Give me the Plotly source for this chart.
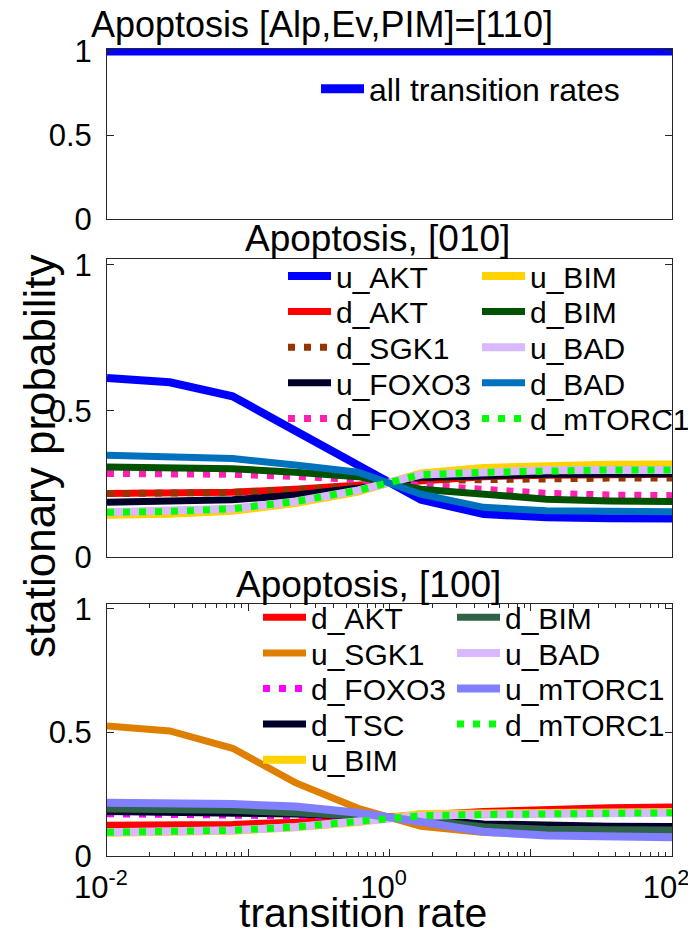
import plotly.graph_objects as go

# ---------------- data ----------------
x_rate = [0.01, 0.02783, 0.07743, 0.2154, 0.5995, 1.668, 4.642, 12.92, 35.94, 100.0]

# top panel [110]
top_names = ["all transition rates"]
top_all = [1.0, 1.0, 1.0, 1.0, 1.0, 1.0, 1.0, 1.0, 1.0, 1.0]

# middle panel [010]
mid_names = ["u_AKT", "d_AKT", "d_SGK1", "u_FOXO3", "d_FOXO3",
             "u_BIM", "d_BIM", "u_BAD", "d_BAD", "d_mTORC1"]
mid_u_AKT    = [0.613, 0.598, 0.550, 0.433, 0.317, 0.196, 0.147, 0.136, 0.133, 0.132]
mid_d_AKT    = [0.217, 0.218, 0.222, 0.232, 0.245, 0.262, 0.275, 0.280, 0.282, 0.283]
mid_d_SGK1   = [0.217, 0.218, 0.221, 0.230, 0.243, 0.262, 0.266, 0.269, 0.270, 0.270]
mid_u_FOXO3  = [0.187, 0.189, 0.196, 0.212, 0.235, 0.272, 0.280, 0.283, 0.284, 0.285]
mid_d_FOXO3  = [0.286, 0.285, 0.283, 0.276, 0.265, 0.245, 0.230, 0.218, 0.212, 0.210]
mid_u_BIM    = [0.145, 0.148, 0.158, 0.185, 0.224, 0.286, 0.305, 0.313, 0.316, 0.317]
mid_d_BIM    = [0.308, 0.306, 0.302, 0.290, 0.275, 0.232, 0.212, 0.198, 0.192, 0.190]
mid_u_BAD    = [0.153, 0.156, 0.165, 0.190, 0.228, 0.282, 0.290, 0.297, 0.298, 0.298]
mid_d_BAD    = [0.348, 0.345, 0.337, 0.315, 0.290, 0.215, 0.170, 0.158, 0.156, 0.155]
mid_d_mTORC1 = [0.153, 0.156, 0.165, 0.190, 0.228, 0.282, 0.290, 0.297, 0.298, 0.298]

# bottom panel [100]
bot_names = ["d_AKT", "u_SGK1", "d_FOXO3", "d_TSC", "u_BIM",
             "d_BIM", "u_BAD", "u_mTORC1", "d_mTORC1"]
bot_d_AKT    = [0.124, 0.125, 0.128, 0.137, 0.148, 0.166, 0.180, 0.190, 0.195, 0.198]
bot_u_SGK1   = [0.526, 0.506, 0.436, 0.297, 0.193, 0.120, 0.095, 0.086, 0.081, 0.080]
bot_d_FOXO3  = [0.171, 0.170, 0.168, 0.163, 0.160, 0.152, 0.125, 0.115, 0.112, 0.110]
bot_d_TSC    = [0.180, 0.179, 0.176, 0.170, 0.162, 0.152, 0.130, 0.122, 0.120, 0.119]
bot_u_BIM    = [0.094, 0.096, 0.102, 0.116, 0.138, 0.170, 0.172, 0.175, 0.177, 0.178]
bot_d_BIM    = [0.190, 0.189, 0.185, 0.175, 0.165, 0.148, 0.118, 0.108, 0.106, 0.105]
bot_u_BAD    = [0.096, 0.098, 0.104, 0.117, 0.140, 0.163, 0.168, 0.172, 0.174, 0.175]
bot_u_mTORC1 = [0.216, 0.214, 0.210, 0.200, 0.175, 0.138, 0.098, 0.083, 0.078, 0.076]
bot_d_mTORC1 = [0.096, 0.098, 0.104, 0.117, 0.140, 0.163, 0.168, 0.172, 0.174, 0.175]

titles = ["Apoptosis [Alp,Ev,PIM]=[110]", "Apoptosis, [010]", "Apoptosis, [100]"]
y_tick_vals = [0, 0.5, 1]
y_tick_text = ["0", "0.5", "1"]
x_tick_vals = [0.01, 0.1, 1, 10, 100]
x_tick_text = ["10<sup>-2</sup>", " ", "10<sup>0</sup>", " ", "10<sup>2</sup>"]
x_label = "transition rate"
y_label = "stationary probability"

# ---------------- styles / geometry ----------------
FONT = "Liberation Sans, Arial, Helvetica, sans-serif"
OFF = 8                      # browser body margin
W, H = 696 - OFF, 938 - OFF  # figure size so page does not overflow
SL, SR = 107, 672            # plot area left/right in screen pixels
ML = SL - OFF
PW = SR - SL
MR = W - ML - PW
AX = "#262626"
DOT = "7px,9px"
ITEM_W = 43

def px_x(p):
    # screen pixel -> paper x
    return (p - OFF - ML) / PW

def px_y(p):
    # screen pixel -> paper y
    return 1 - (p - OFF) / H

mid_style = {
    "u_AKT": ("#0000FF", "solid", 8), "d_AKT": ("#FF0000", "solid", 7),
    "d_SGK1": ("#993300", DOT, 7), "u_FOXO3": ("#00002A", "solid", 7),
    "d_FOXO3": ("#FF20B0", DOT, 7), "u_BIM": ("#FFD200", "solid", 8),
    "d_BIM": ("#005200", "solid", 7), "u_BAD": ("#D8B8FF", "solid", 8),
    "d_BAD": ("#0072BD", "solid", 7), "d_mTORC1": ("#00FF00", DOT, 7),
}
bot_style = {
    "d_AKT": ("#FF0000", "solid", 7), "u_SGK1": ("#DF7F00", "solid", 7),
    "d_FOXO3": ("#FF00FF", DOT, 7), "d_TSC": ("#00002A", "solid", 7),
    "u_BIM": ("#FFD200", "solid", 8), "d_BIM": ("#2E6347", "solid", 7),
    "u_BAD": ("#D8B8FF", "solid", 8), "u_mTORC1": ("#8080FF", "solid", 8),
    "d_mTORC1": ("#00FF00", DOT, 7),
}
mid_series = [mid_u_AKT, mid_d_AKT, mid_d_SGK1, mid_u_FOXO3, mid_d_FOXO3,
              mid_u_BIM, mid_d_BIM, mid_u_BAD, mid_d_BAD, mid_d_mTORC1]
bot_series = [bot_d_AKT, bot_u_SGK1, bot_d_FOXO3, bot_d_TSC, bot_u_BIM,
              bot_d_BIM, bot_u_BAD, bot_u_mTORC1, bot_d_mTORC1]

fig = go.Figure()
legends = {}
LEG_FONT = 30
n_leg = [0]

def add_legend(lx, ly, size=LEG_FONT):
    n_leg[0] += 1
    key = "legend" if n_leg[0] == 1 else "legend%d" % n_leg[0]
    legends[key] = dict(x=px_x(lx), y=px_y(ly), xanchor="left", yanchor="middle",
                        bgcolor="rgba(0,0,0,0)", borderwidth=0, itemwidth=ITEM_W,
                        font=dict(family=FONT, size=size, color="black"))
    return key

# top panel
k = add_legend(316, 89, 32)
fig.add_trace(go.Scatter(x=x_rate, y=top_all, mode="lines", name=top_names[0],
                         line=dict(color="#0000FF", width=9), xaxis="x", yaxis="y",
                         legend=k, showlegend=True))

# middle panel (legend in 2 columns, 5 rows)
mid_rows = [276, 311.6, 347.2, 382.8, 418.4]
for i, (nm, ys) in enumerate(zip(mid_names, mid_series)):
    col, row = divmod(i, 5)
    lx = [283, 477][col]
    k = add_legend(lx, mid_rows[row])
    c, d, w = mid_style[nm]
    fig.add_trace(go.Scatter(x=x_rate, y=ys, mode="lines", name=nm,
                             line=dict(color=c, dash=d, width=w),
                             xaxis="x2", yaxis="y2", legend=k, showlegend=True))

# bottom panel
bot_rows = [617.3, 652.9, 688.5, 724.1, 759.7]
for i, (nm, ys) in enumerate(zip(bot_names, bot_series)):
    col, row = divmod(i, 5)
    lx = [258, 452][col]
    k = add_legend(lx, bot_rows[row])
    c, d, w = bot_style[nm]
    fig.add_trace(go.Scatter(x=x_rate, y=ys, mode="lines", name=nm,
                             line=dict(color=c, dash=d, width=w),
                             xaxis="x3", yaxis="y3", legend=k, showlegend=True))

tick_font = dict(family=FONT, size=31, color="black")

def xaxis(anchor, labels):
    d = dict(type="log", range=[-2, 2], domain=[0, 1], anchor=anchor,
             showline=True, linecolor=AX, linewidth=1, mirror=True,
             showgrid=False, zeroline=False, tickfont=tick_font)
    if labels:
        d.update(tickmode="array", tickvals=x_tick_vals, ticktext=x_tick_text,
                 ticks="inside", ticklen=7, tickcolor=AX, mirror="ticks",
                 ticklabelstandoff=4, ticklabelshift=-6,
                 minor=dict(ticks="inside", ticklen=4, tickcolor=AX, dtick="D1",
                            showgrid=False))
    else:
        d.update(ticks="", showticklabels=False)
    return d

def yaxis(anchor, dom, rng):
    return dict(domain=dom, range=rng, anchor=anchor, tickmode="array",
                tickvals=y_tick_vals, ticktext=y_tick_text, ticks="inside",
                ticklen=7, tickcolor=AX, showline=True, linecolor=AX, linewidth=1,
                mirror="ticks", showgrid=False, zeroline=False, tickfont=tick_font,
                ticklabelstandoff=8)

def ann(text, sx, sy, size, angle=0):
    return dict(text=text, x=px_x(sx), y=px_y(sy), xref="paper", yref="paper",
                showarrow=False, xanchor="center", yanchor="middle", textangle=angle,
                font=dict(family=FONT, size=size, color="black"))

layout = dict(
    width=W, height=H, paper_bgcolor="white", plot_bgcolor="white",
    showlegend=True,
    margin=dict(l=ML, r=MR, t=0, b=0, autoexpand=False),
    font=dict(family=FONT, color="black"),
    xaxis=xaxis("y", False),
    yaxis=yaxis("x", [px_y(219), px_y(49)], [0, 1.012]),
    xaxis2=xaxis("y2", False),
    yaxis2=yaxis("x2", [px_y(557), px_y(259)], [0, 1.02]),
    xaxis3=xaxis("y3", True),
    yaxis3=yaxis("x3", [px_y(856), px_y(604)], [0, 1.02]),
    annotations=[
        ann(titles[0], 322, 24, 36),
        ann(titles[1], 377, 238, 37),
        ann(titles[2], 368, 584, 37),
        ann(x_label, 363, 913, 41),
        ann(y_label, 39, 456, 44, -90),
    ],
)
layout.update(legends)
fig.update_layout(**layout)
fig.write_html("out.html")
